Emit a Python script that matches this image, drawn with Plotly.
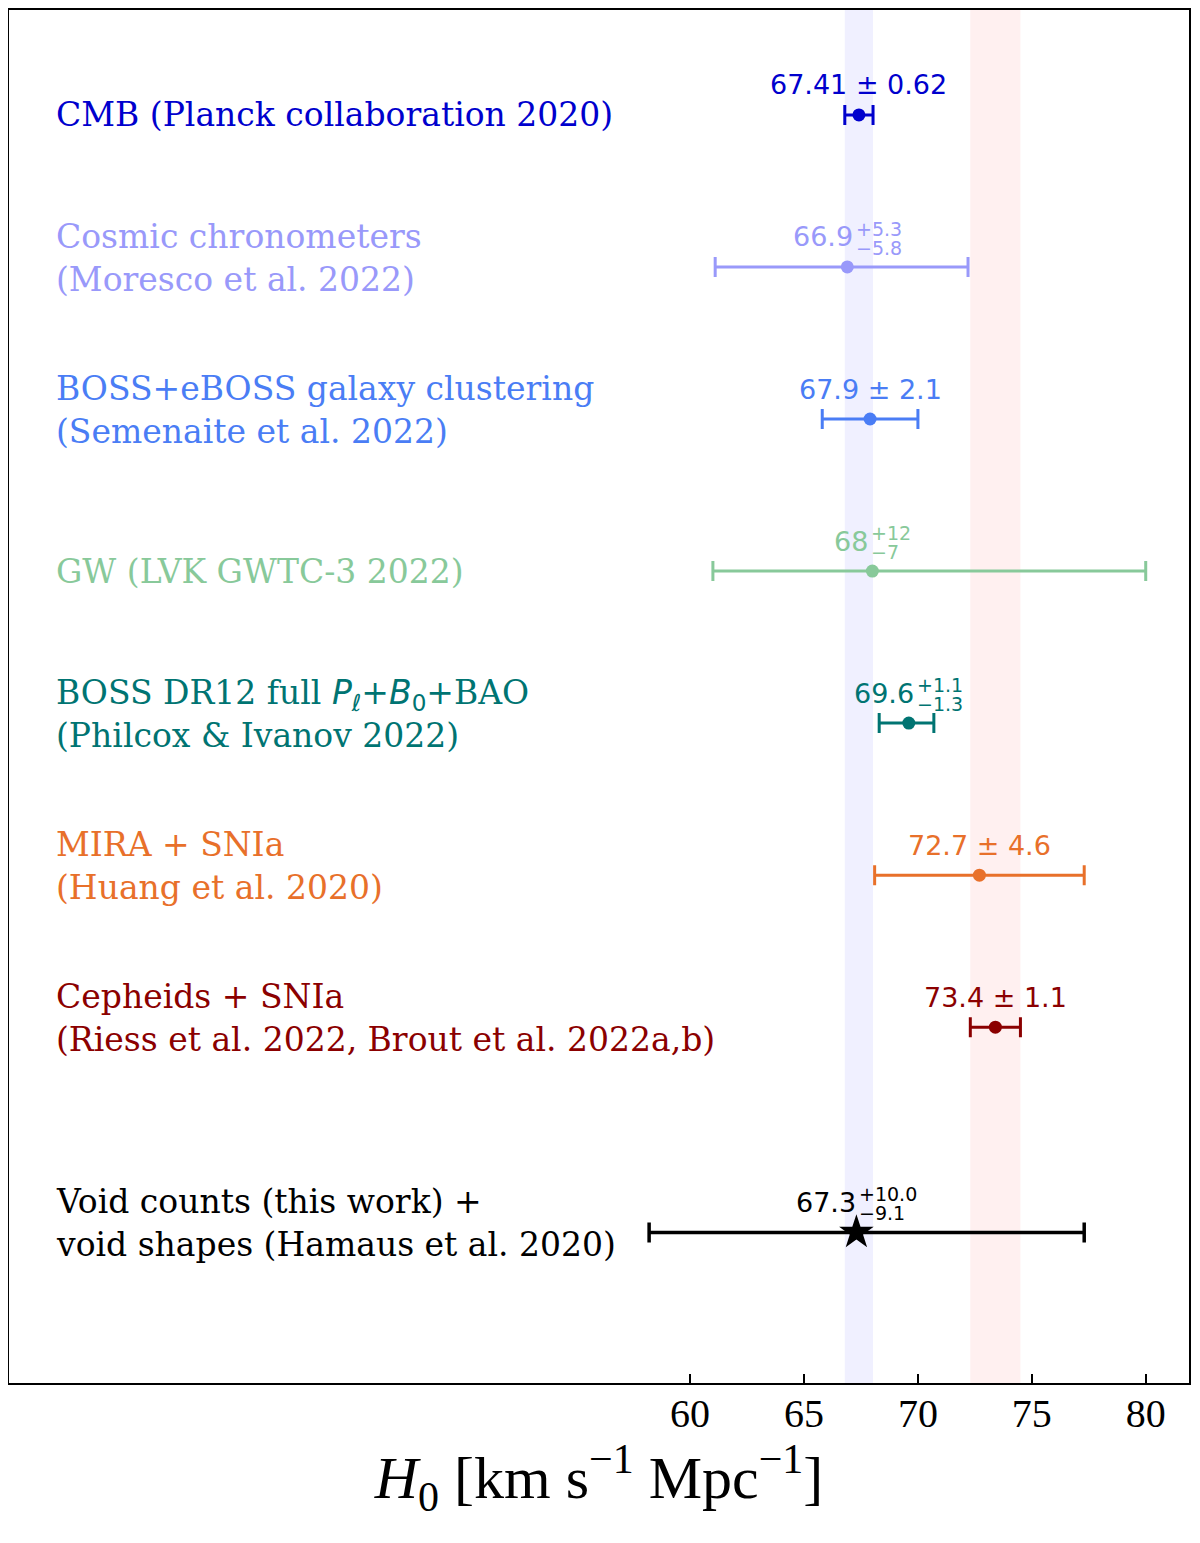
import plotly.graph_objects as go

# ----------------------------------------
# Data: H0 measurements
# ----------------------------------------
labels = [
    "CMB (Planck collaboration 2020)",
    "Cosmic chronometers<br>(Moresco et al. 2022)",
    "BOSS+eBOSS galaxy clustering<br>(Semenaite et al. 2022)",
    "GW (LVK GWTC-3 2022)",
    "BOSS DR12 full <span style=\"font-family:'DejaVu Sans'\"><i>P</i><sub><i>ℓ</i></sub></span>+"
    "<span style=\"font-family:'DejaVu Sans'\"><i>B</i><sub>0</sub></span>+BAO<br>(Philcox &amp; Ivanov 2022)",
    "MIRA + SNIa<br>(Huang et al. 2020)",
    "Cepheids + SNIa<br>(Riess et al. 2022, Brout et al. 2022a,b)",
    "Void counts (this work) +<br>void shapes (Hamaus et al. 2020)",
]
h0 = [67.41, 66.9, 67.9, 68.0, 69.6, 72.7, 73.4, 67.3]
err_plus = [0.62, 5.3, 2.1, 12.0, 1.1, 4.6, 1.1, 10.0]
err_minus = [0.62, 5.8, 2.1, 7.0, 1.3, 4.6, 1.1, 9.1]
main_txt = ["67.41 ± 0.62", "66.9", "67.9 ± 2.1", "68", "69.6", "72.7 ± 4.6", "73.4 ± 1.1", "67.3"]
sup_txt = [None, "+5.3", None, "+12", "+1.1", None, None, "+10.0"]
sub_txt = [None, "−5.8", None, "−7", "−1.3", None, None, "−9.1"]
rows = [0, 1, 2, 3, 4, 5, 6, 7.35]
colors = ["#0000CD", "#9999FA", "#4A7DF5", "#88C99A", "#007472", "#E8702A", "#8B0000", "#000000"]

# reference bands (Planck and SH0ES)
band_planck = (67.41 - 0.62, 67.41 + 0.62)
band_shoes = (73.4 - 1.1, 73.4 + 1.1)

ticks = [60, 65, 70, 75, 80]
xrange_ = [30.1, 81.9]
yrange_ = [8.34, -0.69]

# ----------------------------------------
# Helpers for text width (DejaVu Sans, em units)
# ----------------------------------------
W = {'0': 0.636, '1': 0.636, '2': 0.636, '3': 0.636, '4': 0.636, '5': 0.636,
     '6': 0.636, '7': 0.636, '8': 0.636, '9': 0.636, '.': 0.318, '+': 0.838,
     '−': 0.838, ' ': 0.318, '±': 0.838}

def text_w(s, size):
    return sum(W.get(c, 0.6) for c in s) * size

main_size = 27
script_size = 19

fig = go.Figure()

for i in range(len(h0)):
    is_void = i == len(h0) - 1
    fig.add_trace(go.Scatter(
        x=[h0[i]], y=[rows[i]],
        mode='markers',
        marker=dict(symbol='star' if is_void else 'circle',
                    size=26 if is_void else 13,
                    color=colors[i], line=dict(width=0)),
        error_x=dict(type='data', symmetric=False,
                     array=[err_plus[i]], arrayminus=[err_minus[i]],
                     color=colors[i], thickness=3.5 if is_void else 3,
                     width=10),
        showlegend=False,
        hoverinfo='skip'
    ))

    # label on the left
    two_lines = '<br>' in labels[i]
    fig.add_annotation(
        x=0.038, xref='paper', y=rows[i], yref='y',
        text=labels[i], showarrow=False, xanchor='left', yanchor='middle',
        align='left', yshift=9 if two_lines else 0,
        font=dict(family='DejaVu Serif', size=33, color=colors[i])
    )

    # value text above point
    if sup_txt[i] is None:
        fig.add_annotation(
            x=h0[i], y=rows[i], text=main_txt[i], showarrow=False,
            xanchor='center', yanchor='middle', yshift=30,
            font=dict(family='DejaVu Sans', size=main_size, color=colors[i])
        )
    else:
        wm = text_w(main_txt[i], main_size)
        ws = max(text_w(sup_txt[i], script_size), text_w(sub_txt[i], script_size))
        gap = -1
        total = wm + gap + ws
        fig.add_annotation(
            x=h0[i], y=rows[i], text=main_txt[i], showarrow=False,
            xanchor='right', yanchor='middle', yshift=30, xshift=wm - total / 2,
            font=dict(family='DejaVu Sans', size=main_size, color=colors[i])
        )
        fig.add_annotation(
            x=h0[i], y=rows[i], text=sup_txt[i], showarrow=False,
            xanchor='left', yanchor='middle', yshift=38, xshift=wm + gap - total / 2,
            font=dict(family='DejaVu Sans', size=script_size, color=colors[i])
        )
        fig.add_annotation(
            x=h0[i], y=rows[i], text=sub_txt[i], showarrow=False,
            xanchor='left', yanchor='middle', yshift=19, xshift=wm + gap - total / 2,
            font=dict(family='DejaVu Sans', size=script_size, color=colors[i])
        )

# bands
fig.add_vrect(x0=band_planck[0], x1=band_planck[1], fillcolor='#F0F0FF',
              line_width=0, layer='below')
fig.add_vrect(x0=band_shoes[0], x1=band_shoes[1], fillcolor='#FFF0F0',
              line_width=0, layer='below')

# page body has an 8px margin, so the figure is shrunk to fit
fig.update_layout(
    width=1192, height=1535,
    margin=dict(l=1, r=11, t=2, b=160),
    plot_bgcolor='white', paper_bgcolor='white',
    xaxis=dict(
        range=xrange_, tickvals=ticks, ticktext=[str(t) for t in ticks],
        ticks='inside', ticklen=9, tickwidth=1.5, tickcolor='black',
        showline=True, linecolor='black', linewidth=2, mirror=True,
        showgrid=False, zeroline=False, automargin=False,
        ticklabelstandoff=-6,
        tickfont=dict(family='Liberation Serif', size=40, color='black'),
        title=dict(text='<i>H</i><sub>0</sub> [km s<sup>−1</sup> Mpc<sup>−1</sup>]',
                   font=dict(family='Liberation Serif', size=60, color='black'),
                   standoff=10),
    ),
    yaxis=dict(
        range=yrange_, showticklabels=False, ticks='',
        showline=True, linecolor='black', linewidth=2, mirror=True,
        showgrid=False, zeroline=False, automargin=False,
    ),
)

fig.write_html("out.html")
